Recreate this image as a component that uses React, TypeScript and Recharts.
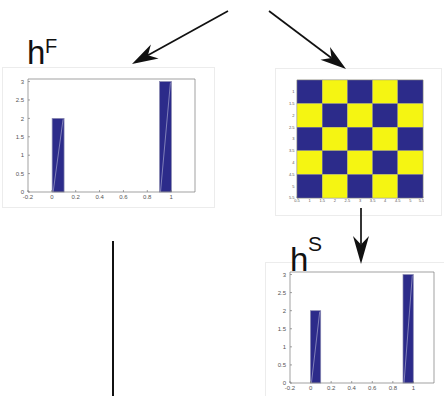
import React from "react";
import { Bar, ComposedChart, Scatter, XAxis, YAxis } from "recharts";

// histogram bins (centre, count)
const binCentres = [0.05, 0.95];
const binCounts = [2, 3];
const histXTicks = [-0.2, 0, 0.2, 0.4, 0.6, 0.8, 1];
const histXTicksTop = [-0.2, 0, 0.2, 0.4, 0.6, 0.8, 1, 1.2];
const histYTicks = [0, 0.5, 1, 1.5, 2, 2.5, 3];

// checkerboard image, 5x5, value 0 = blue, 1 = yellow
const gridCols = [1, 2, 3, 4, 5];
const gridRows = [1, 2, 3, 4, 5];
const gridTicks = [0.5, 1, 1.5, 2, 2.5, 3, 3.5, 4, 4.5, 5, 5.5];

const NAVY = "#2c2b8a";
const YELLOW = "#f5f512";
const AXIS = "#7a7a7a";
const LABEL = "#555";

const histData = binCentres.map((x, i) => ({ x, n: binCounts[i] }));
const gridData = gridRows.flatMap((r) =>
  gridCols.map((c) => ({ c, r, v: (r + c) % 2 })),
);

type Rect = { x: number; y: number; w: number; h: number };

const fmt = (v: number) => String(v);

function HistBar(props: any) {
  const { x, y, width, height } = props;
  if (!height) return null;
  return (
    <g>
      <rect x={x} y={y} width={width} height={height} fill={NAVY} stroke="#8a8ab0" strokeWidth={0.7} />
      <line x1={x + 1} y1={y + height} x2={x + width - 1} y2={y + 1} stroke="#b8b8d8" strokeWidth={0.6} />
    </g>
  );
}

function Hist({ plot }: { plot: Rect }) {
  const ml = 22;
  const mb = 14;
  const barPx = (0.1 / 1.4) * plot.w;
  const axisCommon = { stroke: AXIS, strokeWidth: 0.7, tickSize: -2 } as const;
  return (
    <div style={{ position: "absolute", left: plot.x - ml, top: plot.y - 1 }}>
      <ComposedChart
        width={plot.w + ml + 1}
        height={plot.h + mb + 1}
        data={histData}
        margin={{ top: 0, right: 0, bottom: 0, left: 0 }}
      >
        <XAxis
          xAxisId="b"
          dataKey="x"
          type="number"
          domain={[-0.2, 1.2]}
          ticks={histXTicks}
          tickFormatter={fmt}
          height={mb}
          tickMargin={5}
          tick={{ fontSize: 6, fill: LABEL }}
          {...axisCommon}
        />
        <XAxis
          xAxisId="t"
          dataKey="x"
          orientation="top"
          type="number"
          domain={[-0.2, 1.2]}
          ticks={histXTicksTop}
          height={1}
          tick={false}
          {...axisCommon}
        />
        <YAxis
          yAxisId="l"
          type="number"
          domain={[0, 3.07]}
          ticks={histYTicks}
          tickFormatter={fmt}
          width={ml}
          tickMargin={6}
          tick={{ fontSize: 6, fill: LABEL }}
          {...axisCommon}
        />
        <YAxis
          yAxisId="r"
          orientation="right"
          type="number"
          domain={[0, 3.07]}
          ticks={histYTicks}
          width={1}
          tick={false}
          {...axisCommon}
        />
        <Bar
          xAxisId="b"
          yAxisId="l"
          dataKey="n"
          barSize={barPx}
          shape={<HistBar />}
          isAnimationActive={false}
        />
        <Bar xAxisId="t" yAxisId="r" dataKey="n" barSize={0} shape={() => null} isAnimationActive={false} />
      </ComposedChart>
    </div>
  );
}

function Checker({ plot }: { plot: Rect }) {
  const ml = 16;
  const mb = 10;
  const cw = plot.w / 5;
  const ch = plot.h / 5;
  const axisCommon = { stroke: AXIS, strokeWidth: 0.6, tickSize: -1.5 } as const;
  const Cell = (p: any) => (
    <rect
      x={p.cx - cw / 2}
      y={p.cy - ch / 2}
      width={cw}
      height={ch}
      fill={p.payload.v ? YELLOW : NAVY}
      stroke="#9a9a80"
      strokeWidth={0.4}
    />
  );
  return (
    <div style={{ position: "absolute", left: plot.x - ml, top: plot.y - 1 }}>
      <ComposedChart
        width={plot.w + ml + 1}
        height={plot.h + mb + 1}
        data={gridData}
        margin={{ top: 0, right: 0, bottom: 0, left: 0 }}
      >
        <XAxis
          xAxisId="b"
          dataKey="c"
          type="number"
          domain={[0.5, 5.5]}
          ticks={gridTicks}
          tickFormatter={fmt}
          height={mb}
          tickMargin={3}
          tick={{ fontSize: 4, fill: LABEL }}
          {...axisCommon}
        />
        <XAxis xAxisId="t" dataKey="c" orientation="top" type="number" domain={[0.5, 5.5]} ticks={gridTicks} height={1} tick={false} {...axisCommon} />
        <YAxis
          yAxisId="l"
          dataKey="r"
          type="number"
          reversed
          domain={[0.5, 5.5]}
          ticks={gridTicks}
          tickFormatter={fmt}
          width={ml}
          tickMargin={4}
          tick={{ fontSize: 4, fill: LABEL }}
          {...axisCommon}
        />
        <YAxis yAxisId="r" dataKey="r" orientation="right" type="number" reversed domain={[0.5, 5.5]} ticks={gridTicks} width={1} tick={false} {...axisCommon} />
        <Scatter xAxisId="b" yAxisId="l" data={gridData} dataKey="r" shape={Cell} isAnimationActive={false} />
        <Scatter xAxisId="t" yAxisId="r" data={gridData} dataKey="r" shape={() => null} isAnimationActive={false} />
      </ComposedChart>
    </div>
  );
}

function Arrow({ x1, y1, x2, y2, len = 26, half = 8 }: { x1: number; y1: number; x2: number; y2: number; len?: number; half?: number }) {
  const d = Math.hypot(x2 - x1, y2 - y1);
  const ux = (x2 - x1) / d;
  const uy = (y2 - y1) / d;
  const px = -uy;
  const py = ux;
  const bx = x2 - ux * len;
  const by = y2 - uy * len;
  const nx = x2 - ux * len * 0.7;
  const ny = y2 - uy * len * 0.7;
  const pts = [
    [x2, y2],
    [bx + px * half, by + py * half],
    [nx, ny],
    [bx - px * half, by - py * half],
  ]
    .map((p) => p.join(","))
    .join(" ");
  return (
    <g>
      <line x1={x1} y1={y1} x2={nx} y2={ny} stroke="#111" strokeWidth={1.7} />
      <polygon points={pts} fill="#111" />
    </g>
  );
}

function Panel({ r }: { r: Rect }) {
  return (
    <div
      style={{
        position: "absolute",
        left: r.x,
        top: r.y,
        width: r.w,
        height: r.h,
        background: "#fff",
        border: "1px solid #ececec",
        boxSizing: "border-box",
      }}
    />
  );
}

export default function App() {
  return (
    <div
      style={{
        position: "absolute",
        left: 0,
        top: 0,
        width: 444,
        height: 396,
        background: "#fff",
        overflow: "hidden",
        fontFamily: '"Liberation Sans", Arial, sans-serif',
      }}
    >
      <Panel r={{ x: 2, y: 67, w: 213, h: 141 }} />
      <Panel r={{ x: 275, y: 68, w: 167, h: 148 }} />
      <Panel r={{ x: 265, y: 262, w: 182, h: 140 }} />
      <Hist plot={{ x: 28, y: 79, w: 167, h: 113 }} />
      <Checker plot={{ x: 297, y: 80, w: 126, h: 118 }} />
      <Hist plot={{ x: 290, y: 272, w: 144, h: 111 }} />
      <svg
        width={444}
        height={396}
        style={{ position: "absolute", left: 0, top: 0, pointerEvents: "none" }}
      >
        <Arrow x1={228} y1={11} x2={132} y2={64} />
        <Arrow x1={269} y1={11} x2={346} y2={69} />
        <Arrow x1={361} y1={208} x2={361} y2={264} len={28} half={8} />
        <line x1={113} y1={241} x2={113} y2={396} stroke="#111" strokeWidth={2} />
        <text x={27} y={64} fontSize={33} fill="#111" fontFamily='"Liberation Sans", Arial, sans-serif'>h</text>
        <text x={45} y={53} fontSize={20} fill="#111" fontFamily='"Liberation Sans", Arial, sans-serif'>F</text>
        <text x={290} y={271} fontSize={33} fill="#111" fontFamily='"Liberation Sans", Arial, sans-serif'>h</text>
        <text x={308} y={251} fontSize={21} fill="#111" fontFamily='"Liberation Sans", Arial, sans-serif'>S</text>
      </svg>
    </div>
  );
}
